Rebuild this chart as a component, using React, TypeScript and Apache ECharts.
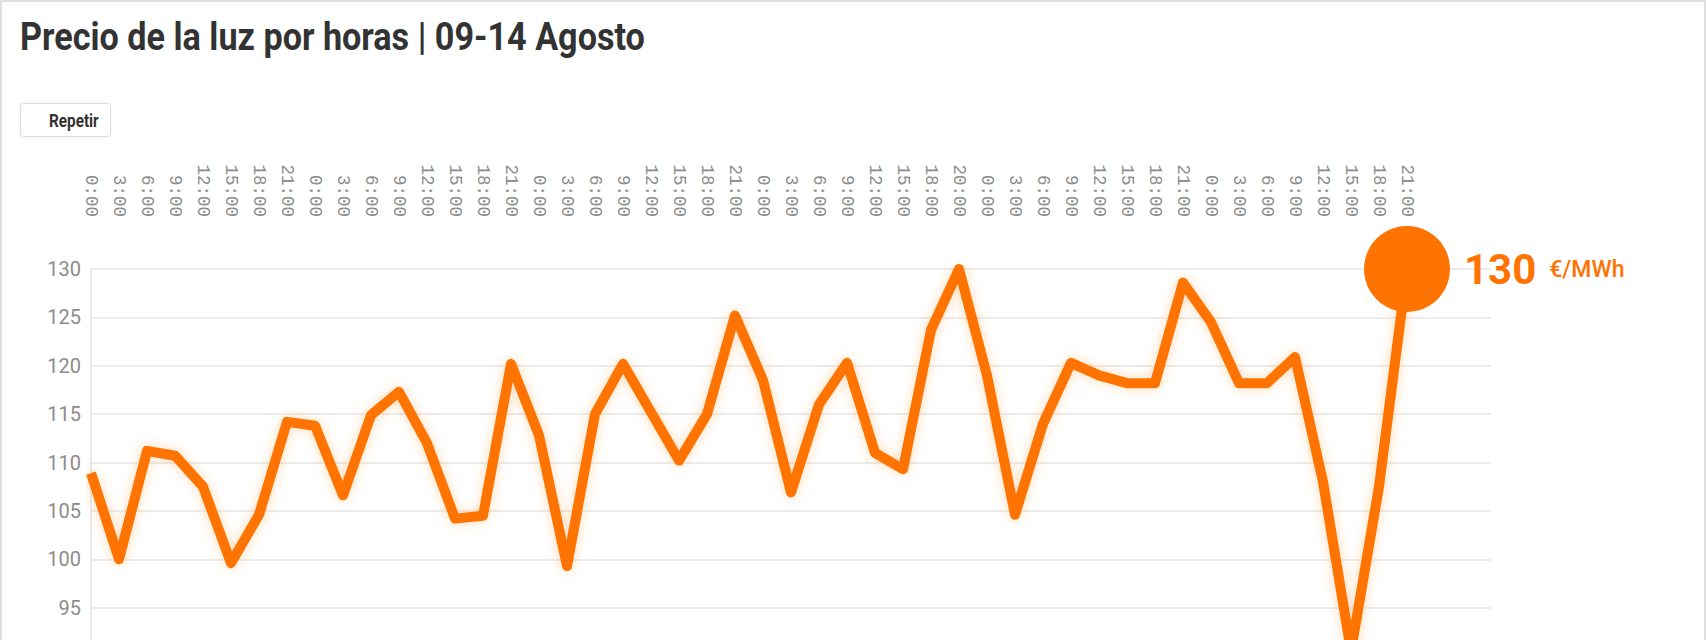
import React, { useEffect, useRef } from "react";
import * as echarts from "echarts";

const TITLE = "Precio de la luz por horas | 09-14 Agosto";
const BUTTON_LABEL = "Repetir";
const UNIT = "€/MWh";

const day1 = ["0:00", "3:00", "6:00", "9:00", "12:00", "15:00", "18:00", "21:00"];
const day2 = ["0:00", "3:00", "6:00", "9:00", "12:00", "15:00", "18:00", "21:00"];
const day3 = ["0:00", "3:00", "6:00", "9:00", "12:00", "15:00", "18:00", "21:00"];
const day4 = ["0:00", "3:00", "6:00", "9:00", "12:00", "15:00", "18:00", "20:00"];
const day5 = ["0:00", "3:00", "6:00", "9:00", "12:00", "15:00", "18:00", "21:00"];
const day6 = ["0:00", "3:00", "6:00", "9:00", "12:00", "15:00", "18:00", "21:00"];
const emptySlots = ["", "", ""];

const prices = [
  108.9, 100.0, 111.2, 110.7, 107.5, 99.6, 104.6, 114.2,
  113.8, 106.6, 114.9, 117.3, 112.0, 104.2, 104.5, 120.2,
  112.8, 99.3, 115.0, 120.2, 115.2, 110.2, 115.0, 125.2,
  118.5, 106.9, 116.0, 120.3, 111.0, 109.3, 123.7, 130.0,
  119.0, 104.6, 114.0, 120.3, 119.0, 118.2, 118.2, 128.6,
  124.5, 118.2, 118.2, 120.9, 108.0, 90.5, 107.5, 130.0,
];

const Y_MIN = 90;
const Y_MAX = 130;
const Y_STEP = 5;

const ORANGE = "#ff7300";

export default function App() {
  const ref = useRef<HTMLDivElement>(null);

  useEffect(() => {
    if (!ref.current) return;
    const chart = echarts.init(ref.current, null, { renderer: "svg" });
    const categories = [...day1, ...day2, ...day3, ...day4, ...day5, ...day6, ...emptySlots];
    const lastIdx = prices.length - 1;
    const lastVal = prices[lastIdx];

    chart.setOption({
      animation: false,
      backgroundColor: "#ffffff",
      graphic: [
        {
          type: "rect",
          shape: { x: 1, y: 1, width: 1704, height: 720 },
          style: { fill: "none", stroke: "#dedede", lineWidth: 2 },
          silent: true,
        },
        {
          type: "text",
          x: 20,
          y: 37,
          scaleX: 0.9,
          style: {
            text: TITLE,
            fill: "#333333",
            fontFamily: "Roboto",
            fontWeight: "bold",
            fontSize: 38,
            textVerticalAlign: "middle",
          },
        },
        {
          type: "rect",
          shape: { x: 20.5, y: 103.5, width: 90, height: 33, r: 3 },
          style: {
            fill: "#ffffff",
            stroke: "#dddddd",
            lineWidth: 1,
            shadowBlur: 3,
            shadowColor: "rgba(0,0,0,0.08)",
          },
        },
        {
          type: "text",
          x: 49,
          y: 121,
          scaleX: 0.85,
          style: {
            text: BUTTON_LABEL,
            fill: "#333333",
            fontFamily: "Roboto",
            fontWeight: "bold",
            fontSize: 18,
            textVerticalAlign: "middle",
          },
        },
      ],
      grid: {
        left: 91,
        top: 269,
        width: 1400,
        height: 387,
        outerBoundsMode: "none",
        containLabel: false,
      },
      xAxis: {
        type: "category",
        position: "top",
        data: categories,
        boundaryGap: false,
        axisLine: { show: false },
        axisTick: { show: false },
        splitLine: { show: false },
        axisLabel: {
          rotate: 90,
          interval: 0,
          margin: 52,
          color: "#8c8c8c",
          fontSize: 17.5,
          fontFamily: "Liberation Mono",
        },
      },
      yAxis: {
        type: "value",
        min: Y_MIN,
        max: Y_MAX,
        interval: Y_STEP,
        axisLine: { show: true, lineStyle: { color: "#e2e2e2", width: 1.5 } },
        axisTick: { show: false },
        axisLabel: {
          color: "#8c8c8c",
          fontSize: 20,
          fontFamily: "Roboto",
          margin: 10,
          showMinLabel: false,
        },
        splitLine: { lineStyle: { color: "#e6e6e6", width: 1.5 } },
      },
      series: [
        {
          type: "line",
          data: prices,
          symbol: "none",
          lineStyle: {
            color: ORANGE,
            width: 10,
            join: "round",
            shadowColor: "rgba(255,130,30,0.3)",
            shadowBlur: 12,
          },
          z: 3,
        },
        {
          type: "scatter",
          data: [[lastIdx, lastVal]],
          symbol: "circle",
          symbolSize: 86,
          itemStyle: { color: ORANGE, opacity: 1 },
          z: 4,
          label: {
            show: true,
            position: "right",
            distance: 14,
            formatter: (p: any) => `{a|${Math.round(p.value[1])}}{b|${UNIT}}`,
            rich: {
              a: { fontSize: 42, fontWeight: "bold", fontFamily: "Roboto", color: ORANGE },
              b: { fontSize: 23, fontWeight: 500, fontFamily: "Roboto", color: ORANGE, padding: [0, 0, 0, 13] },
            },
          },
        },
      ],
    });

    return () => chart.dispose();
  }, []);

  return (
    <div
      ref={ref}
      style={{ position: "fixed", left: 0, top: 0, width: 1706, height: 640 }}
    />
  );
}
